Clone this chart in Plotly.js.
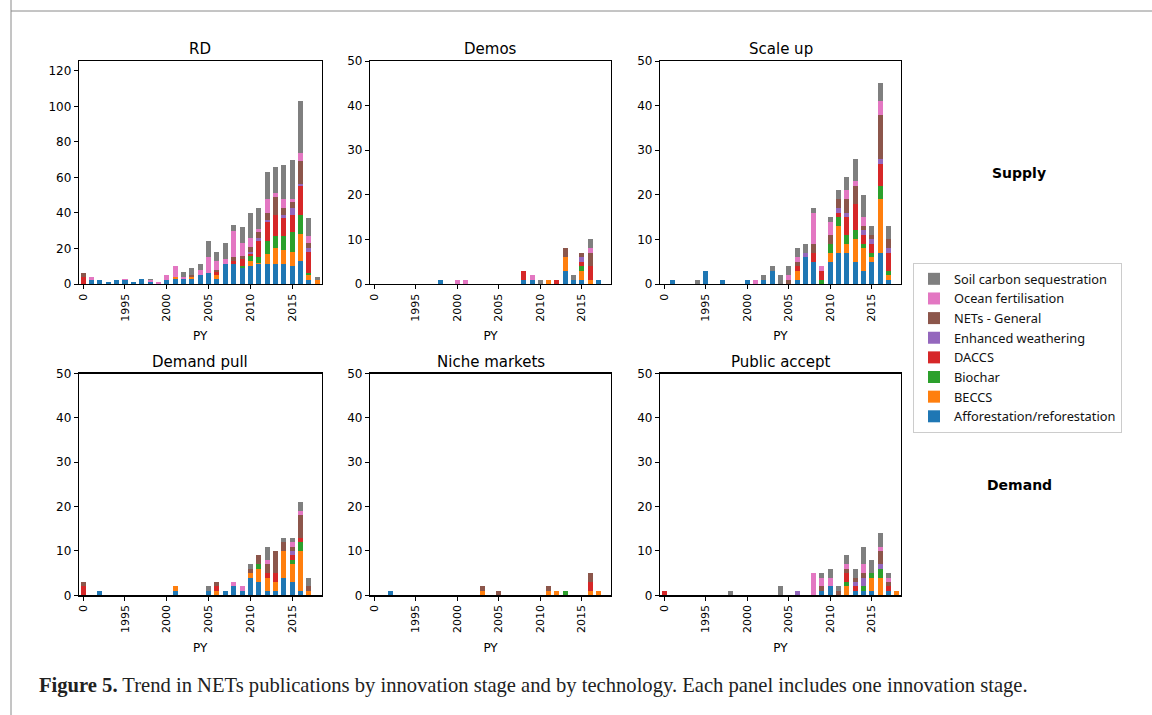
<!DOCTYPE html>
<html>
<head>
<meta charset="utf-8">
<script src="https://cdn.plot.ly/plotly-3.0.1.min.js"></script>
<style>
html,body{margin:0;padding:0;background:#fff;}
#chart{width:1152px;height:715px;}
</style>
</head>
<body>
<div id="chart"></div>
<script>
// x categories: first category is labelled "0" (placed where 1990 would be)
const years = [1990,1991,1992,1993,1994,1995,1996,1997,1998,1999,2000,2001,2002,2003,2004,2005,2006,2007,2008,2009,2010,2011,2012,2013,2014,2015,2016,2017,2018];
const tickYears = [1990,1995,2000,2005,2010,2015];
const tickLabels = ["0","1995","2000","2005","2010","2015"];

const techs = ["Afforestation/reforestation","BECCS","Biochar","DACCS","Enhanced weathering","NETs - General","Ocean fertilisation","Soil carbon sequestration"];
const colors = ["#1f77b4","#ff7f0e","#2ca02c","#d62728","#9467bd","#8c564b","#e377c2","#7f7f7f"];

const panelTitles = ["RD","Demos","Scale up","Demand pull","Niche markets","Public accept"];

// RD                 1990-94     1995-99     2000-04     2005-09       2010-14          2015-18
const rd_aff     = [0,2,2,1,2, 2,1,3,1,0, 2,3,3,3,5, 6,3,11,11,9, 10,11,11,11,11, 10,13,2,0];
const rd_beccs   = [0,0,0,0,0, 0,0,0,0,0, 0,1,0,1,0, 0,2,0,0,0,   3,1,6,9,8,      8,15,3,2];
const rd_biochar = [0,0,0,0,0, 0,0,0,0,0, 0,0,0,0,0, 0,0,0,0,1,   3,3,7,7,8,      11,11,1,0];
const rd_daccs   = [4,0,0,0,0, 0,0,0,0,0, 0,0,0,0,0, 0,2,0,2,4,   1,9,11,12,10,   10,16,12,0];
const rd_ew      = [0,0,0,0,0, 0,0,0,0,0, 0,0,0,0,0, 0,0,0,0,0,   1,2,1,0,2,      4,1,2,0];
const rd_nets    = [2,0,0,0,0, 0,0,0,0,0, 0,0,0,1,0, 0,1,0,2,2,   3,3,4,10,4,     3,13,3,0];
const rd_ocean   = [0,2,0,0,0, 1,0,0,1,1, 3,6,1,0,3, 9,5,3,15,7,  5,2,8,2,5,      2,5,4,0];
const rd_soil    = [0,0,0,0,0, 0,0,0,1,0, 0,0,3,4,3, 9,5,9,3,9,   14,12,15,15,19, 22,29,10,2];

// Demos
const de_aff     = [0,0,0,0,0, 0,0,0,1,0, 0,0,0,0,0, 0,0,0,1,1, 0,0,0,3,1, 1,0,1,0];
const de_beccs   = [0,0,0,0,0, 0,0,0,0,0, 0,0,0,0,0, 0,0,0,0,0, 0,1,0,3,0, 2,1,0,0];
const de_biochar = [0,0,0,0,0, 0,0,0,0,0, 0,0,0,0,0, 0,0,0,0,0, 0,0,0,0,0, 1,0,0,0];
const de_daccs   = [0,0,0,0,0, 0,0,0,0,0, 0,0,0,0,0, 0,0,0,2,0, 0,0,1,0,0, 1,3,0,0];
const de_ew      = [0,0,0,0,0, 0,0,0,0,0, 0,0,0,0,0, 0,0,0,0,0, 0,0,0,0,0, 1,0,0,0];
const de_nets    = [0,0,0,0,0, 0,0,0,0,0, 0,0,0,0,0, 0,0,0,0,0, 0,0,0,2,0, 1,3,0,0];
const de_ocean   = [0,0,0,0,0, 0,0,0,0,0, 1,1,0,0,0, 0,0,0,0,1, 0,0,0,0,0, 0,1,0,0];
const de_soil    = [0,0,0,0,0, 0,0,0,0,0, 0,0,0,0,0, 0,0,0,0,0, 1,0,0,0,1, 0,2,0,0];

// Scale up
const su_aff     = [0,1,0,0,0, 3,0,1,0,0, 1,0,1,3,0, 0,1,6,5,0, 5,7,7,5,3, 5,7,1,0];
const su_beccs   = [0,0,0,0,0, 0,0,0,0,0, 0,0,0,0,0, 0,2,0,0,0, 2,6,2,5,5, 1,12,1,0];
const su_biochar = [0,0,0,0,0, 0,0,0,0,0, 0,0,0,0,0, 0,0,0,0,1, 2,2,2,2,1, 1,3,1,0];
const su_daccs   = [0,0,0,0,0, 0,0,0,0,0, 0,0,0,0,0, 0,1,0,2,2, 0,1,4,6,2, 2,5,4,0];
const su_ew      = [0,0,0,0,0, 0,0,0,0,0, 0,0,0,0,0, 0,0,1,0,0, 0,1,1,0,1, 1,1,1,0];
const su_nets    = [0,0,0,0,0, 0,0,0,0,0, 0,0,0,0,0, 1,1,0,2,0, 2,2,3,4,1, 1,10,2,0];
const su_ocean   = [0,0,0,0,0, 0,0,0,0,0, 0,1,0,0,0, 1,1,0,7,1, 3,0,2,1,2, 0,3,0,0];
const su_soil    = [0,0,0,0,1, 0,0,0,0,0, 0,0,1,1,2, 2,2,2,1,0, 1,2,3,5,5, 2,4,3,0];

// Demand pull
const dp_aff     = [0,0,1,0,0, 0,0,0,0,0, 0,1,0,0,0, 1,0,1,2,1, 4,3,1,1,4, 3,1,0,0];
const dp_beccs   = [0,0,0,0,0, 0,0,0,0,0, 0,1,0,0,0, 0,1,0,0,0, 1,3,3,2,6, 4,9,1,0];
const dp_biochar = [0,0,0,0,0, 0,0,0,0,0, 0,0,0,0,0, 0,0,0,0,0, 0,1,0,0,0, 1,2,0,0];
const dp_daccs   = [2,0,0,0,0, 0,0,0,0,0, 0,0,0,0,0, 0,1,0,0,0, 0,0,1,2,0, 1,1,0,0];
const dp_ew      = [0,0,0,0,0, 0,0,0,0,0, 0,0,0,0,0, 0,0,0,0,0, 0,0,0,0,0, 1,0,0,0];
const dp_nets    = [1,0,0,0,0, 0,0,0,0,0, 0,0,0,0,0, 0,1,0,0,0, 1,2,2,5,2, 1,5,1,0];
const dp_ocean   = [0,0,0,0,0, 0,0,0,0,0, 0,0,0,0,0, 0,0,0,1,1, 0,0,1,0,0, 1,1,0,0];
const dp_soil    = [0,0,0,0,0, 0,0,0,0,0, 0,0,0,0,0, 1,0,0,0,0, 1,0,3,0,1, 1,2,2,0];

// Niche markets
const nm_aff     = [0,0,1,0,0, 0,0,0,0,0, 0,0,0,0,0, 0,0,0,0,0, 0,0,0,0,0, 0,0,0,0];
const nm_beccs   = [0,0,0,0,0, 0,0,0,0,0, 0,0,0,1,0, 0,0,0,0,0, 0,1,1,0,0, 0,1,1,0];
const nm_biochar = [0,0,0,0,0, 0,0,0,0,0, 0,0,0,0,0, 0,0,0,0,0, 0,0,0,1,0, 0,0,0,0];
const nm_daccs   = [0,0,0,0,0, 0,0,0,0,0, 0,0,0,0,0, 0,0,0,0,0, 0,0,0,0,0, 0,2,0,0];
const nm_ew      = [0,0,0,0,0, 0,0,0,0,0, 0,0,0,0,0, 0,0,0,0,0, 0,0,0,0,0, 0,0,0,0];
const nm_nets    = [0,0,0,0,0, 0,0,0,0,0, 0,0,0,1,0, 1,0,0,0,0, 0,1,0,0,0, 0,2,0,0];
const nm_ocean   = [0,0,0,0,0, 0,0,0,0,0, 0,0,0,0,0, 0,0,0,0,0, 0,0,0,0,0, 0,0,0,0];
const nm_soil    = [0,0,0,0,0, 0,0,0,0,0, 0,0,0,0,0, 0,0,0,0,0, 0,0,0,0,0, 0,0,0,0];

// Public accept
const pa_aff     = [0,0,0,0,0, 0,0,0,0,0, 0,0,0,0,0, 0,0,0,0,1, 2,0,0,1,1, 1,0,1,0];
const pa_beccs   = [0,0,0,0,0, 0,0,0,0,0, 0,0,0,0,0, 0,0,0,0,0, 0,0,2,0,0, 3,4,0,1];
const pa_biochar = [0,0,0,0,0, 0,0,0,0,0, 0,0,0,0,0, 0,0,0,0,0, 0,0,1,0,1, 1,2,0,0];
const pa_daccs   = [1,0,0,0,0, 0,0,0,0,0, 0,0,0,0,0, 0,0,0,0,0, 0,0,2,1,0, 0,0,1,0];
const pa_ew      = [0,0,0,0,0, 0,0,0,0,0, 0,0,0,0,0, 0,1,0,0,0, 0,0,0,1,2, 0,1,0,0];
const pa_nets    = [0,0,0,0,0, 0,0,0,0,0, 0,0,0,0,0, 0,0,0,0,1, 0,1,1,1,1, 0,3,1,0];
const pa_ocean   = [0,0,0,0,0, 0,0,0,0,0, 0,0,0,0,0, 0,0,0,5,2, 2,0,1,0,2, 0,1,1,0];
const pa_soil    = [0,0,0,0,0, 0,0,0,1,0, 0,0,0,0,2, 0,0,0,0,1, 2,1,2,2,4, 3,3,1,0];

const panels = [
  [rd_aff,rd_beccs,rd_biochar,rd_daccs,rd_ew,rd_nets,rd_ocean,rd_soil],
  [de_aff,de_beccs,de_biochar,de_daccs,de_ew,de_nets,de_ocean,de_soil],
  [su_aff,su_beccs,su_biochar,su_daccs,su_ew,su_nets,su_ocean,su_soil],
  [dp_aff,dp_beccs,dp_biochar,dp_daccs,dp_ew,dp_nets,dp_ocean,dp_soil],
  [nm_aff,nm_beccs,nm_biochar,nm_daccs,nm_ew,nm_nets,nm_ocean,nm_soil],
  [pa_aff,pa_beccs,pa_biochar,pa_daccs,pa_ew,pa_nets,pa_ocean,pa_soil]
];

const W = 1152, H = 715;
const colPx = [[79,321.5],[370.2,610.9],[660.2,900.8]];
const rowPx = [[61,284],[373.5,595.3]];
const yMax = [125.5,50,50,50,50,50];
const yDtick = [20,10,10,10,10,10];

const FONT = "DejaVu Sans, sans-serif";
const traces = [];
panels.forEach((series, p) => {
  const ax = p === 0 ? "" : String(p + 1);
  series.forEach((vals, k) => {
    traces.push({
      type: "bar",
      x: years,
      y: vals,
      name: techs[k],
      legendgroup: techs[k],
      showlegend: p === 0,
      marker: {color: colors[k], line: {width: 0}},
      xaxis: "x" + ax,
      yaxis: "y" + ax,
      hoverinfo: "x+y+name"
    });
  });
});

const layout = {
  width: W, height: H,
  margin: {l: 0, r: 0, t: 0, b: 0},
  paper_bgcolor: "#ffffff",
  plot_bgcolor: "#ffffff",
  barmode: "stack",
  bargap: 0.4,
  font: {family: FONT, color: "#000", size: 12},
  showlegend: true,
  legend: {
    x: 913 / W, y: 1 - 263 / H, xanchor: "left", yanchor: "top",
    traceorder: "reversed",
    bordercolor: "#cccccc", borderwidth: 1, bgcolor: "#ffffff",
    font: {family: "Noto Sans, sans-serif", size: 12.8, color: "#111"},
    tracegroupgap: 0, itemwidth: 30
  },
  annotations: [],
  shapes: [
    {type: "line", xref: "paper", yref: "paper", x0: 11 / W, x1: 11 / W, y0: 0, y1: 1, line: {color: "#8a8a8a", width: 1}},
    {type: "line", xref: "paper", yref: "paper", x0: 11 / W, x1: 1, y0: 1 - 11 / H, y1: 1 - 11 / H, line: {color: "#8a8a8a", width: 1}}
  ]
};

for (let p = 0; p < 6; p++) {
  const c = p % 3, r = Math.floor(p / 3);
  const ax = p === 0 ? "" : String(p + 1);
  layout["xaxis" + ax] = {
    domain: [colPx[c][0] / W, colPx[c][1] / W],
    anchor: "y" + ax,
    range: [1989.5, 2018.5],
    tickmode: "array", tickvals: tickYears, ticktext: tickLabels,
    tickangle: -90,
    ticks: "outside", ticklen: 4, tickwidth: 1, tickcolor: "#000",
    showline: true, mirror: true, linecolor: "#000", linewidth: 1.3,
    showgrid: false, zeroline: false,
    tickfont: {family: FONT, size: 11, color: "#000"},
    title: {text: "PY", font: {family: FONT, size: 12, color: "#000"}, standoff: 11}
  };
  layout["yaxis" + ax] = {
    domain: [1 - rowPx[r][1] / H, 1 - rowPx[r][0] / H],
    anchor: "x" + ax,
    range: [0, yMax[p]],
    tickmode: "linear", tick0: 0, dtick: yDtick[p],
    ticks: "outside", ticklen: 4, tickwidth: 1, tickcolor: "#000",
    showline: true, mirror: true, linecolor: "#000", linewidth: 1.3,
    showgrid: false, zeroline: false,
    tickfont: {family: FONT, size: 12, color: "#000"}
  };
  layout.annotations.push({
    text: panelTitles[p], xref: "paper", yref: "paper",
    x: (colPx[c][0] + colPx[c][1]) / 2 / W, y: 1 - (rowPx[r][0] - 12) / H,
    xanchor: "center", yanchor: "middle", showarrow: false,
    font: {family: FONT, size: 15, color: "#000"}
  });
}

layout.annotations.push(
  {text: "<b>Supply</b>", xref: "paper", yref: "paper", x: 1019 / W, y: 1 - 173 / H,
   xanchor: "center", yanchor: "middle", showarrow: false, font: {family: FONT, size: 14, color: "#000"}},
  {text: "<b>Demand</b>", xref: "paper", yref: "paper", x: 1019 / W, y: 1 - 485 / H,
   xanchor: "center", yanchor: "middle", showarrow: false, font: {family: FONT, size: 14, color: "#000"}},
  {text: "<b>Figure 5.</b> Trend in NETs publications by innovation stage and by technology. Each panel includes one innovation stage.",
   xref: "paper", yref: "paper", x: 37 / W, y: 1 - 685 / H, xanchor: "left", yanchor: "middle",
   showarrow: false, font: {family: "Liberation Serif, serif", size: 20.6, color: "#222"}}
);

Plotly.newPlot("chart", traces, layout, {displayModeBar: false, staticPlot: true});
</script>
</body>
</html>
